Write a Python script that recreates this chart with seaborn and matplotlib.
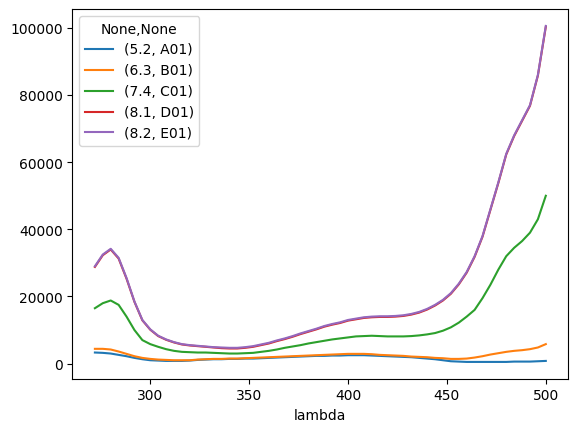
import numpy as np
import pandas as pd
import matplotlib
matplotlib.use("Agg")
import matplotlib.pyplot as plt
import seaborn as sns

lam = list(range(272, 501, 4))

# values in thousands
a01 = [3.3, 3.2, 3.0, 2.6, 2.2, 1.7, 1.3, 1.0, 0.9, 0.8, 0.8, 0.8, 0.9, 1.1, 1.2, 1.3,
       1.3, 1.4, 1.4, 1.5, 1.5, 1.6, 1.7, 1.8, 1.9, 2.0, 2.1, 2.2, 2.3, 2.3, 2.4, 2.4,
       2.5, 2.5, 2.5, 2.4, 2.3, 2.2, 2.1, 2.0, 1.9, 1.7, 1.5, 1.3, 1.0, 0.7, 0.6, 0.5,
       0.5, 0.5, 0.5, 0.5, 0.5, 0.6, 0.6, 0.6, 0.7, 0.8]
b01 = [4.4, 4.4, 4.2, 3.6, 2.9, 2.2, 1.7, 1.4, 1.2, 1.1, 1.0, 1.0, 1.0, 1.2, 1.3, 1.4,
       1.4, 1.5, 1.5, 1.6, 1.7, 1.8, 1.9, 2.0, 2.1, 2.2, 2.3, 2.4, 2.5, 2.6, 2.7, 2.8,
       2.9, 2.9, 2.9, 2.8, 2.6, 2.5, 2.4, 2.3, 2.1, 2.0, 1.9, 1.7, 1.6, 1.4, 1.4, 1.5,
       1.8, 2.2, 2.7, 3.1, 3.5, 3.8, 4.0, 4.3, 4.8, 5.8]
c01 = [16.5, 18.0, 18.8, 17.5, 14.0, 10.0, 7.0, 5.8, 5.0, 4.3, 3.8, 3.5, 3.4, 3.3, 3.3, 3.2,
       3.1, 3.0, 3.0, 3.1, 3.2, 3.5, 3.8, 4.2, 4.7, 5.1, 5.5, 6.0, 6.4, 6.8, 7.2, 7.5,
       7.8, 8.1, 8.2, 8.3, 8.2, 8.1, 8.1, 8.1, 8.2, 8.4, 8.7, 9.1, 9.8, 10.8, 12.2, 14.0,
       16.0, 19.5, 23.5, 28.0, 32.0, 34.5, 36.5, 39.0, 43.0, 50.0]
d01 = [28.8, 32.3, 34.0, 31.3, 25.3, 18.4, 12.9, 10.1, 8.2, 7.1, 6.3, 5.7, 5.4, 5.2, 5.0, 4.8,
       4.6, 4.5, 4.5, 4.7, 5.0, 5.5, 6.0, 6.7, 7.3, 8.0, 8.8, 9.5, 10.2, 11.0, 11.6, 12.1,
       12.8, 13.2, 13.6, 13.8, 13.9, 13.9, 14.0, 14.2, 14.6, 15.2, 16.1, 17.3, 18.8, 20.8, 23.6, 27.1,
       31.8, 37.8, 45.8, 53.8, 62.3, 67.8, 72.3, 76.8, 85.8, 100.3]
e01 = [29.0, 32.5, 34.2, 31.5, 25.5, 18.5, 13.0, 10.2, 8.3, 7.2, 6.4, 5.8, 5.5, 5.3, 5.1, 4.9,
       4.8, 4.7, 4.7, 4.9, 5.2, 5.7, 6.2, 6.9, 7.5, 8.2, 9.0, 9.7, 10.4, 11.2, 11.8, 12.3,
       13.0, 13.4, 13.8, 14.0, 14.1, 14.1, 14.2, 14.4, 14.8, 15.4, 16.3, 17.5, 19.0, 21.0, 23.8, 27.3,
       32.0, 38.0, 46.0, 54.0, 62.5, 68.0, 72.5, 77.0, 86.0, 100.6]

series_labels = ["(5.2, A01)", "(6.3, B01)", "(7.4, C01)", "(8.1, D01)", "(8.2, E01)"]
series_values = [a01, b01, c01, d01, e01]

frames = []
for lab, vals in zip(series_labels, series_values):
    frames.append(pd.DataFrame({"lambda": lam,
                                "value": np.array(vals) * 1000.0,
                                "series": lab}))
df = pd.concat(frames, ignore_index=True)

fig, ax = plt.subplots(figsize=(6.4, 4.8), dpi=100)
sns.lineplot(data=df, x="lambda", y="value", hue="series",
             hue_order=series_labels, palette="tab10", linewidth=1.5, ax=ax)
ax.set_xlabel("lambda")
ax.set_ylabel("")
ax.legend(title="None,None", loc="upper left")
fig.savefig("out.png", dpi=100, bbox_inches="tight")
